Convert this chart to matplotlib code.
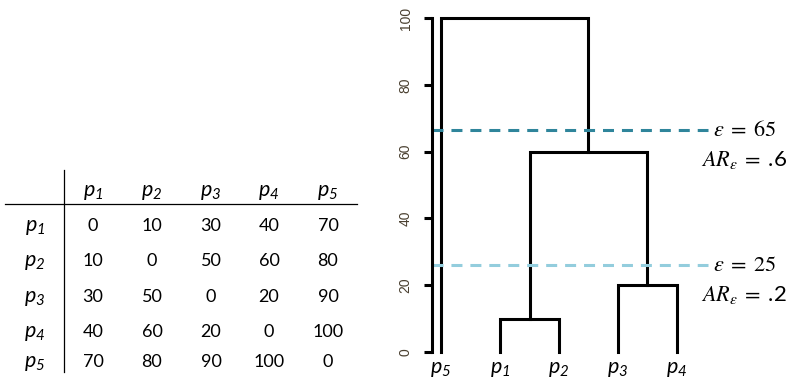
import numpy as np
import matplotlib.pyplot as plt

# distance matrix shown in the table
points = ["p1", "p2", "p3", "p4", "p5"]
dist = [[0, 10, 30, 40, 70],
        [10, 0, 50, 60, 80],
        [30, 50, 0, 20, 90],
        [40, 60, 20, 0, 100],
        [70, 80, 90, 100, 0]]

# dendrogram (complete linkage): leaf order and merges (left, right, height)
leaf_order = ["p5", "p1", "p2", "p3", "p4"]
merges = [("p1", "p2", 10),
          ("p3", "p4", 20),
          ("p1p2", "p3p4", 60),
          ("p5", "p1p2p3p4", 100)]

# cut levels (drawn height) and their labels
cut_heights = [66.5, 26]
cut_labels = [r"$\varepsilon\;=\;65$", r"$\varepsilon\;=\;25$"]
ar_labels = [r"$AR_{\varepsilon}\;=\;$.6", r"$AR_{\varepsilon}\;=\;$.2"]
cut_colors = ["#2f859b", "#93cddd"]

plt.rcParams['font.family'] = ['Lato', 'DejaVu Sans']
plt.rcParams['mathtext.fontset'] = 'custom'
plt.rcParams['mathtext.it'] = 'Lato:italic'
plt.rcParams['mathtext.rm'] = 'Lato:italic'

W, H = 788, 382
fig = plt.figure(figsize=(W / 100, H / 100), dpi=100)


def sub(name):
    return r"$p_{%s}$" % name[1:]


# ---------- table (pixel coordinates overlay) ----------
tab = fig.add_axes([0, 0, 1, 1])
tab.set_xlim(0, W)
tab.set_ylim(H, 0)
tab.axis('off')

col_x = [93, 152, 211, 269, 328]
row_y = [231, 266, 302, 337, 367]
tab.plot([64, 64], [170, 372], color='black', lw=0.9)
tab.plot([5, 357], [204, 204], color='black', lw=0.9)
for j, p in enumerate(points):
    tab.text(col_x[j], 196, sub(p), ha='center', va='baseline', fontsize=15.5)
for i, p in enumerate(points):
    tab.text(35, row_y[i], sub(p), ha='center', va='baseline', fontsize=15.5)
    for j in range(len(points)):
        tab.text(col_x[j], row_y[i], str(dist[i][j]), ha='center',
                 va='baseline', fontsize=13)

# ---------- dendrogram ----------
x0, x1 = 432, 708
y0, y1 = 352, 18
ax = fig.add_axes([x0 / W, (H - y0) / H, (x1 - x0) / W, (y0 - y1) / H])
ax.set_facecolor('none')
spacing = 59
ax.set_xlim(1 - 9 / spacing, 1 + (x1 - 441) / spacing)
ax.set_ylim(0, 100)

pos = {name: i + 1 for i, name in enumerate(leaf_order)}
top = {name: 0 for name in leaf_order}
for a, b, h in merges:
    xa, xb = pos[a], pos[b]
    ax.plot([xa, xa, xb, xb], [top[a], h, h, top[b]], color='black',
            lw=2.2, solid_joinstyle='miter', clip_on=False)
    pos[a + b] = (xa + xb) / 2
    top[a + b] = h

for h, c in zip(cut_heights, cut_colors):
    ax.axhline(h, color=c, lw=2.2, dashes=(3.6, 2.6), clip_on=False)

for h, lab, ar in zip(cut_heights, cut_labels, ar_labels):
    yp = y0 - h * (y0 - y1) / 100
    fig.text(713 / W, 1 - yp / H, lab,
             ha='left', va='center', fontsize=16, math_fontfamily='stix')
    fig.text(787 / W, 1 - (yp + 30) / H, ar,
             ha='right', va='center', fontsize=16, math_fontfamily='stix')

for s in ['top', 'right', 'bottom']:
    ax.spines[s].set_visible(False)
ax.spines['left'].set_bounds(0, 100)
ax.spines['left'].set_linewidth(2.2)
ax.set_yticks([0, 20, 40, 60, 80, 100])
ax.set_yticklabels(['0', '20', '40', '60', '80', '100'], rotation=90,
                   va='center', family='Liberation Sans', fontsize=10,
                   color='#4a4030')
ax.tick_params(axis='y', length=6, width=2.2, pad=8)
ax.set_xticks(range(1, len(leaf_order) + 1))
ax.set_xticklabels([sub(p) for p in leaf_order], fontsize=15.5)
ax.tick_params(axis='x', length=0, pad=5)

fig.savefig('out.png', dpi=100)
